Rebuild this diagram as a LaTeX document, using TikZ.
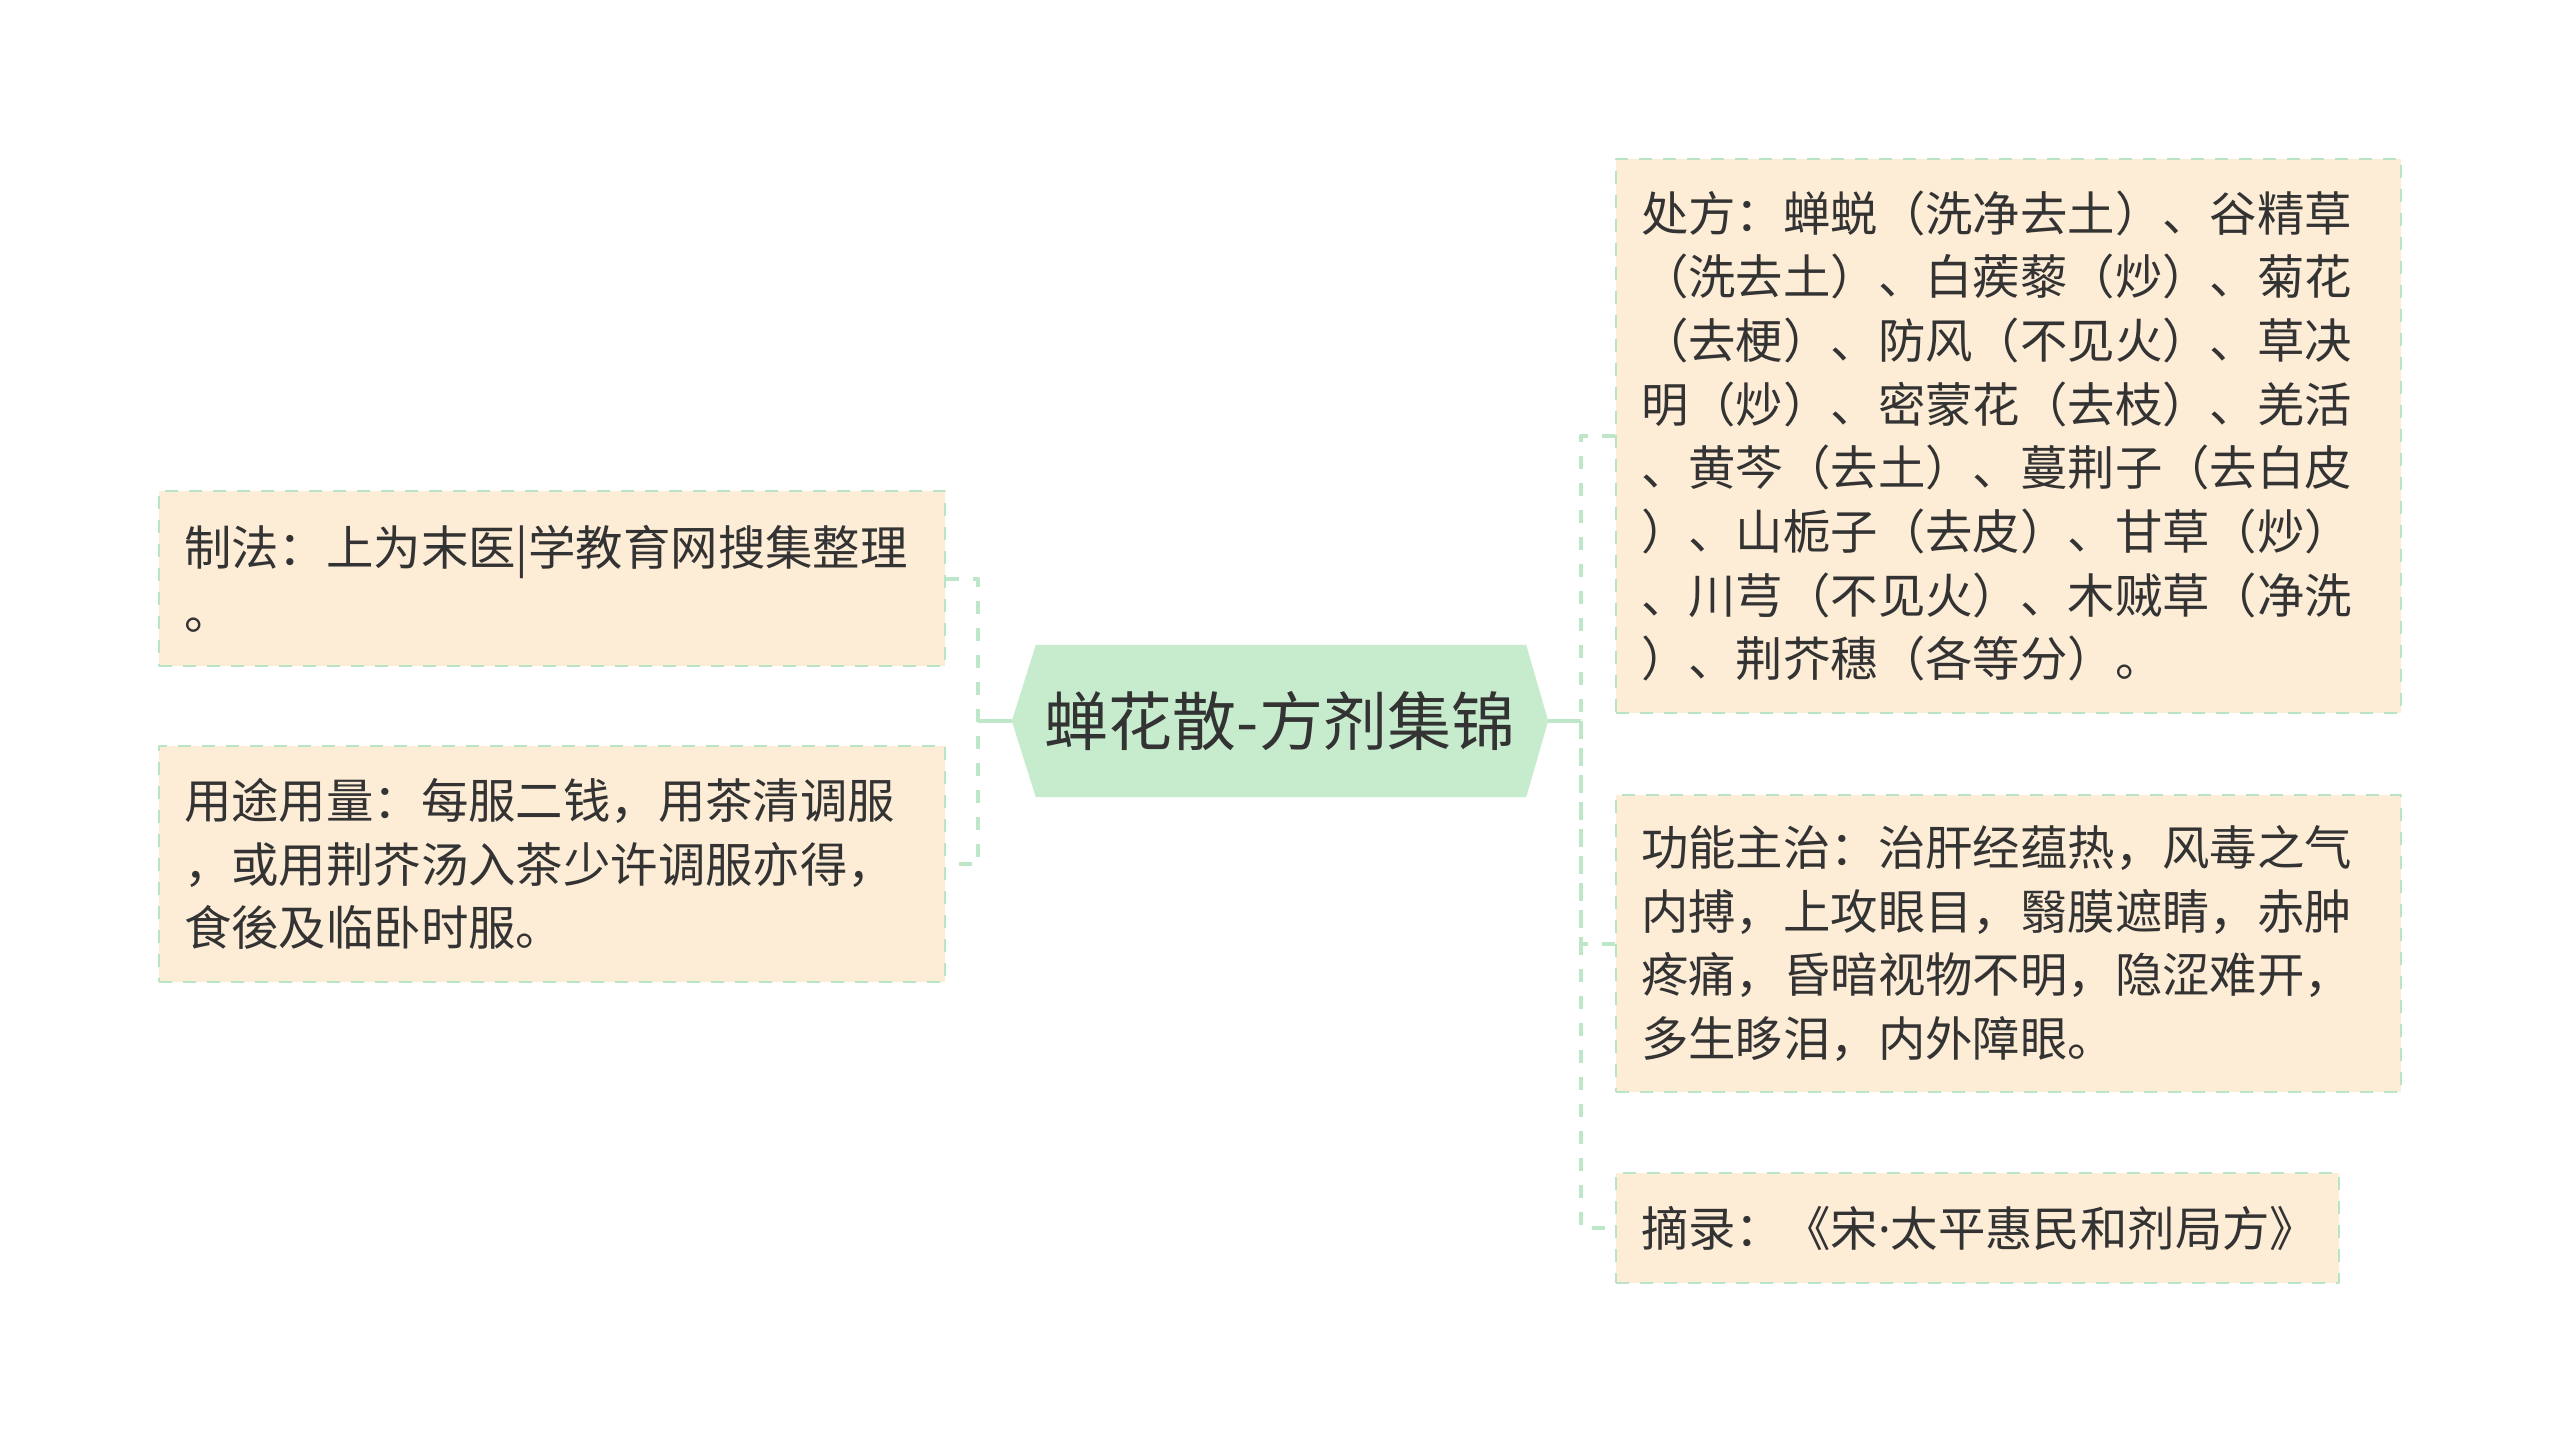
\documentclass[tikz,border=0pt]{standalone}
\usepackage{fontspec}
\setmainfont{Noto Sans CJK SC}
\newfontfamily\latinsans{Noto Sans}
\usetikzlibrary{backgrounds}
\definecolor{leaffill}{RGB}{253,236,214}
\definecolor{leafline}{RGB}{186,228,198}
\definecolor{linkgreen}{RGB}{190,231,201}
\definecolor{hubfill}{RGB}{198,236,205}
\definecolor{inkgray}{RGB}{51,51,51}
\begin{document}
\begin{tikzpicture}[x=1pt, y=-1pt, line join=round,
		leaf/.style={anchor=north west, fill=leaffill, draw=leafline, line width=2pt, dash pattern=on 13pt off 11pt, inner xsep=25pt, inner ysep=0pt, align=left, text=inkgray, font=\fontsize{47.4}{63.7}\selectfont},
		hub/.style={minimum width=536pt, minimum height=152pt, inner sep=0pt, text=inkgray, font=\fontsize{64}{76}\selectfont},
		link/.style={draw=linkgreen, line width=4pt, dash pattern=on 13pt off 14pt},
		stem/.style={draw=linkgreen, line width=4pt}]
			\useasboundingbox (0,0) rectangle (2560,1441);
			\node[hub] (hub) at (1280,721) {蝉花散-方剂集锦};
			\begin{scope}[on background layer]
				\fill[white] (0,0) rectangle (2560,1441);
				\fill[hubfill] (hub.west) -- ([xshift=24pt]hub.north west) -- ([xshift=-22pt]hub.north east) -- (hub.east) -- ([xshift=-22pt]hub.south east) -- ([xshift=24pt]hub.south west) -- cycle;
			\end{scope}
			\node[leaf, text width=736pt, minimum height=175pt] (zhifa) at (158,490) {制法：上为末医|学教育网搜集整理\\。};
			\node[leaf, text width=736pt, minimum height=236pt] (yongtu) at (158,745) {用途用量：每服二钱，用茶清调服\\，或用荆芥汤入茶少许调服亦得，\\食後及临卧时服。};
			\node[leaf, text width=735pt, minimum height=554pt] (chufang) at (1615,158) {处方：蝉蜕（洗净去土）、谷精草\\（洗去土）、白蒺藜（炒）、菊花\\（去梗）、防风（不见火）、草决\\明（炒）、密蒙花（去枝）、羌活\\、黄芩（去土）、蔓荆子（去白皮\\）、山栀子（去皮）、甘草（炒）\\、川芎（不见火）、木贼草（净洗\\）、荆芥穗（各等分）。};
			\node[leaf, text width=735pt, minimum height=297pt] (gongneng) at (1615,794) {功能主治：治肝经蕴热，风毒之气\\内搏，上攻眼目，翳膜遮睛，赤肿\\疼痛，昏暗视物不明，隐涩难开，\\多生眵泪，内外障眼。};
			\node[leaf, text width=673pt, minimum height=110pt] (zhailu) at (1615,1172) {摘录：《宋{\latinsans ·}太平惠民和剂局方》};
			\coordinate (lt) at (978,721);
			\coordinate (rt) at (1581,721);
			\draw[stem] (hub.west) -- (lt);
			\draw[stem] (hub.east) -- (rt);
			\draw[link] (zhifa.east) -| (lt) |- (yongtu.east);
			\draw[link] (chufang.west) -| (rt) |- (zhailu.west);
			\draw[link] (rt) |- (gongneng.west);
		\end{tikzpicture}
\end{document}
